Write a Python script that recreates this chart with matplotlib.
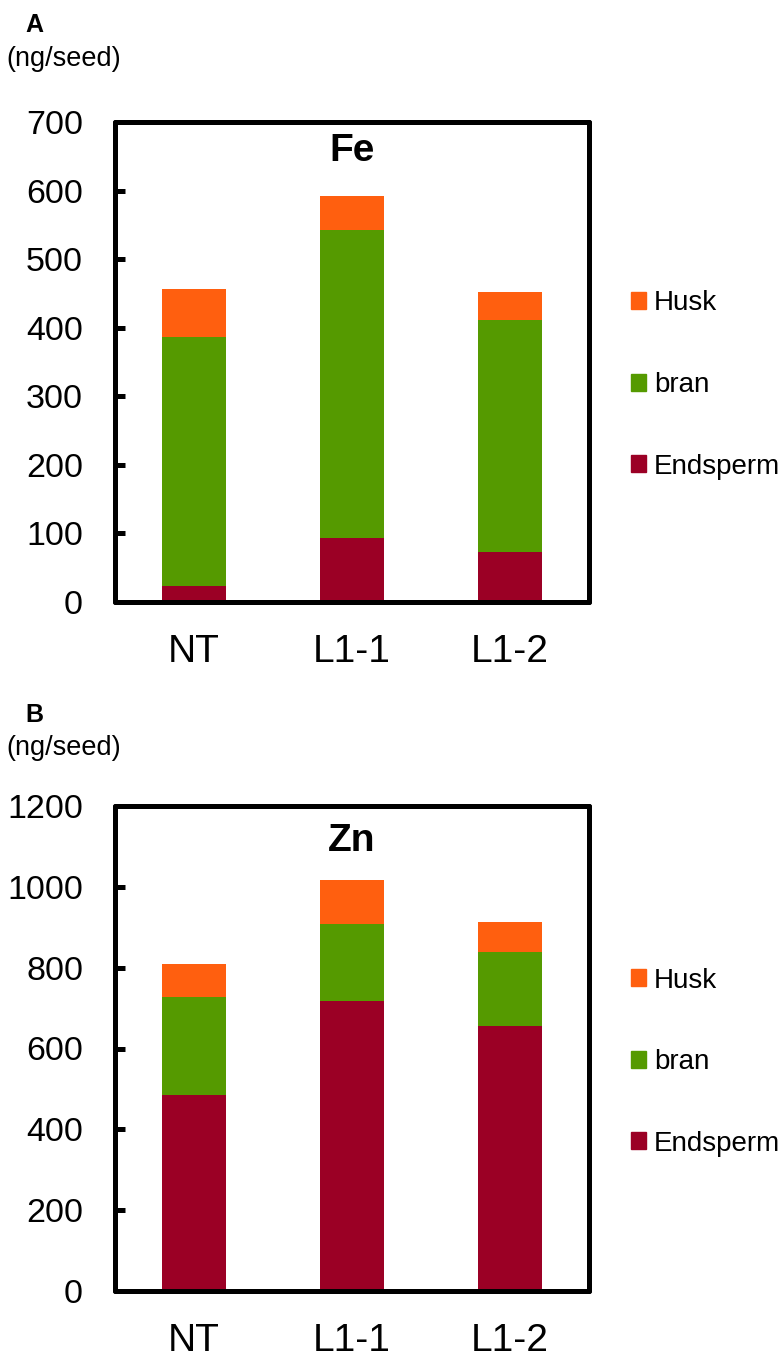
import matplotlib
matplotlib.use("Agg")
import matplotlib.pyplot as plt
from matplotlib.patches import Patch
import numpy as np

plt.rcParams['font.family'] = ['Liberation Sans', 'DejaVu Sans']

lines = ["NT", "L1-1", "L1-2"]
parts = ["Endsperm", "bran", "Husk"]
colors = ["#9B0025", "#559A00", "#FF5F0F"]

# stacked amounts (ng/seed)
fe_endo = [24, 94, 73]
fe_bran = [362, 448, 338]
fe_husk = [70, 50, 41]

zn_endo = [486, 718, 656]
zn_bran = [241, 189, 183]
zn_husk = [82, 109, 73]

fe_ticks = [0, 100, 200, 300, 400, 500, 600, 700]
zn_ticks = [0, 200, 400, 600, 800, 1000, 1200]

fig = plt.figure(figsize=(7.84, 13.61), dpi=100)
W, H = 784, 1361


def panel(rect, stacks, ticks, title, letter, letter_y, unit_y, title_y, leg_y):
    ax = fig.add_axes(rect)
    x = np.arange(len(lines))
    bottom = np.zeros(len(lines))
    for vals, c, name in zip(stacks, colors, parts):
        ax.bar(x, vals, width=0.405, bottom=bottom, color=c, label=name, linewidth=0)
        bottom += np.array(vals)
    ax.set_xlim(-0.5, 2.5)
    ax.set_ylim(ticks[0], ticks[-1])
    ax.set_yticks(ticks)
    ax.set_xticks(x)
    ax.set_xticklabels(lines, fontsize=28)
    ax.tick_params(axis='y', direction='in', length=7.5, width=3.6, pad=23, labelsize=24.5)
    ax.tick_params(axis='x', length=0, pad=23)
    for s in ax.spines.values():
        s.set_linewidth(3.6)
        s.set_capstyle('round')
    ax.text(0.5, title_y, title, transform=ax.transAxes, ha='center', va='top',
            fontsize=28, fontweight='bold')
    handles = [Patch(color=c) for c in colors][::-1]
    ax.legend(handles, parts[::-1], loc='center left', bbox_to_anchor=(1.089, leg_y),
              frameon=False, fontsize=20, handlelength=0.55, handleheight=0.55,
              handletextpad=0.27, labelspacing=2.0, borderpad=0, borderaxespad=0)
    fig.text(25 / W, 1 - letter_y / H, letter, fontsize=18, fontweight='bold', va='center')
    fig.text(6 / W, 1 - unit_y / H, "(ng/seed)", fontsize=19.5, va='center')
    return ax


panel([115 / W, 1 - 602 / H, 474 / W, 480 / H], [fe_endo, fe_bran, fe_husk], fe_ticks,
      "Fe", "A", 25, 59, 0.978, 0.452)
panel([115 / W, 1 - 1291 / H, 474 / W, 485 / H], [zn_endo, zn_bran, zn_husk], zn_ticks,
      "Zn", "B", 715, 748, 0.965, 0.472)

fig.savefig("out.png", dpi=100)
